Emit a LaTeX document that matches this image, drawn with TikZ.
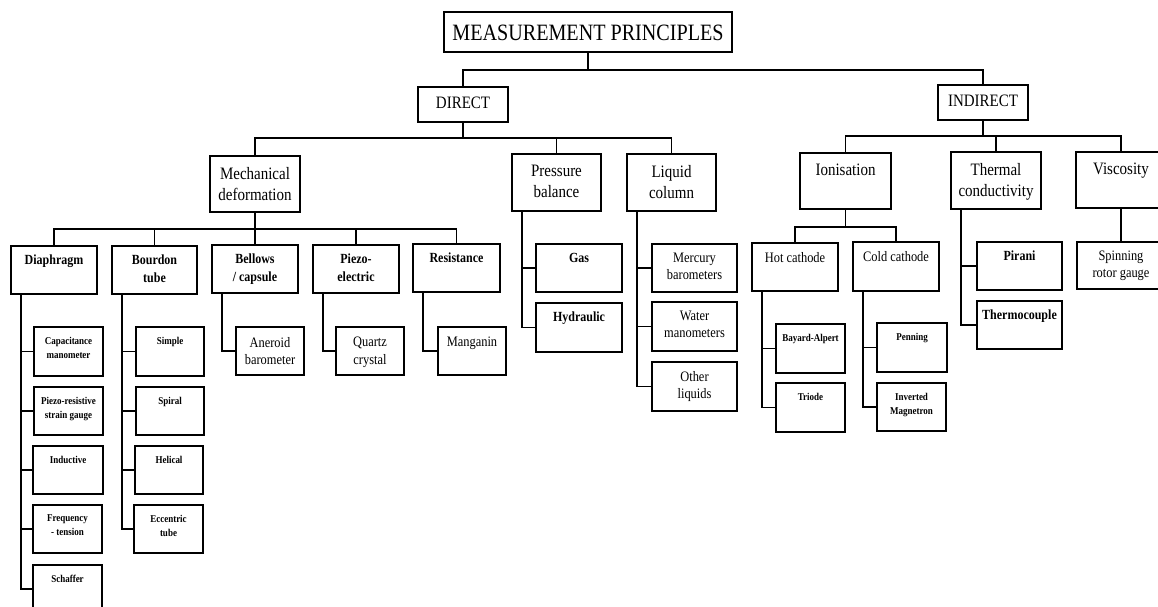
\documentclass[tikz,border=0pt]{standalone}
\usepackage{fontspec}
\setmainfont{Liberation Serif}[FakeStretch=0.86]
\usetikzlibrary{calc}
\newcommand\fA{\fontsize{23.5}{28}\selectfont}
\newcommand\fB{\fontsize{17.5}{21}\selectfont}
\newcommand\fC{\fontsize{14.5}{17.5}\selectfont}
\newcommand\fCb{\fontsize{14}{17.5}\selectfont\bfseries}
\newcommand\fD{\fontsize{10.5}{14}\selectfont\bfseries}
\tikzset{
 boxst/.style={draw,line width=1.5bp,inner sep=0pt,outer sep=0pt},
 lab/.style={anchor=north,align=center,inner sep=0pt,outer sep=0pt},
 lA/.style={lab,font=\fA,yshift=-13bp},
 lB/.style={lab,font=\fB,yshift=-11bp},
 lD/.style={lab,font=\fB,yshift=-10bp},
 lC/.style={lab,font=\fC,yshift=-9bp},
 lCb/.style={lab,font=\fCb,yshift=-9bp},
 lE/.style={lab,font=\fC,yshift=-10bp},
 lL/.style={lab,font=\fD,yshift=-10bp},
 wire/.style={line width=1.5bp}
}
\newcommand\bx[7]{\node[boxst,minimum width={(#4-#2)*1bp},minimum height={(#5-#3)*1bp},label={[#6]north:{#7}}] (#1) at ({(#2+#4)/2},{(#3+#5)/2}) {};}
\begin{document}
\begin{tikzpicture}[x=1bp,y=-1bp]
\useasboundingbox (0,0) rectangle (1158,607);
\fill[white] (0,0) rectangle (1158,607);
\clip (0,0) rectangle (1158,607);
\bx{mp}{444}{12}{732}{52}{lA}{MEASUREMENT PRINCIPLES}
\bx{direct}{418}{87}{508}{122}{lD}{DIRECT}
\bx{indirect}{938}{85}{1028}{120}{lD}{INDIRECT}
\bx{mech}{210}{156}{300}{212}{lB}{Mechanical\\deformation}
\bx{press}{512}{154}{601}{211}{lB}{Pressure\\balance}
\bx{liquid}{627}{154}{716}{211}{lB}{Liquid\\column}
\bx{ion}{800}{153}{891}{209}{lB}{Ionisation}
\bx{therm}{951}{152}{1041}{209}{lB}{Thermal\\conductivity}
\bx{visc}{1076}{152}{1166}{208}{lB}{Viscosity}
\bx{diaph}{11}{246}{97}{294}{lCb}{Diaphragm}
\bx{bourdon}{112}{246}{197}{294}{lCb}{Bourdon\\tube}
\bx{bellows}{212}{245}{298}{293}{lCb}{Bellows\\/ capsule}
\bx{piezo}{313}{245}{399}{293}{lCb}{Piezo-\\electric}
\bx{resist}{413}{244}{500}{292}{lCb}{Resistance}
\bx{capm}{34}{327}{103}{376}{lL}{Capacitance\\manometer}
\bx{prsg}{34}{387}{103}{435}{lL}{Piezo-resistive\\strain gauge}
\bx{induct}{33}{446}{103}{494}{lL}{Inductive}
\bx{freq}{33}{505}{102}{553}{lL}{Frequency\\- tension}
\bx{schaffer}{33}{565}{102}{613}{lL}{Schaffer}
\bx{simple}{136}{327}{204}{376}{lL}{Simple}
\bx{spiral}{136}{387}{204}{435}{lL}{Spiral}
\bx{helical}{135}{446}{203}{494}{lL}{Helical}
\bx{ecc}{134}{505}{203}{553}{lL}{Eccentric\\tube}
\bx{aneroid}{236}{327}{304}{375}{lE}{Aneroid\\barometer}
\bx{quartz}{336}{327}{404}{375}{lE}{Quartz\\crystal}
\bx{mang}{438}{327}{506}{375}{lE}{Manganin}
\bx{gas}{536}{244}{622}{292}{lCb}{Gas}
\bx{hydr}{536}{303}{622}{352}{lCb}{Hydraulic}
\bx{merc}{652}{244}{737}{292}{lC}{Mercury\\barometers}
\bx{water}{652}{302}{737}{351}{lC}{Water\\manometers}
\bx{other}{652}{362}{737}{411}{lC}{Other\\liquids}
\bx{hot}{752}{243}{838}{291}{lC}{Hot cathode}
\bx{cold}{853}{242}{939}{291}{lC}{Cold cathode}
\bx{bayard}{776}{324}{845}{373}{lL}{Bayard-Alpert}
\bx{triode}{776}{383}{845}{432}{lL}{Triode}
\bx{penning}{877}{323}{947}{372}{lL}{Penning}
\bx{invm}{877}{383}{946}{431}{lL}{Inverted\\Magnetron}
\bx{pirani}{977}{242}{1062}{290}{lCb}{Pirani}
\bx{thermo}{977}{301}{1062}{349}{lCb}{Thermocouple}
\bx{spin}{1077}{242}{1165}{289}{lC}{Spinning\\rotor gauge}
% tree connectors
\draw[wire] (mp.south) -- ++(0,18) coordinate (tj);
\draw[wire] (direct.north) |- (tj) -| (indirect.north);
\draw[wire] (direct.south) -- ++(0,16) coordinate (dj);
\draw[wire] (mech.north) |- (dj) -| (liquid.north);
\draw[wire] (press.north) -- (press.north |- dj);
\draw[wire] (mech.south) -- ++(0,17) coordinate (mj);
\draw[wire] (diaph.north) |- (mj) -| (resist.north);
\draw[wire] (bourdon.north) -- (bourdon.north |- mj);
\draw[wire] (bellows.north) -- (bellows.north |- mj);
\draw[wire] (piezo.north) -- (piezo.north |- mj);
\draw[wire] (indirect.south) -- ++(0,16) coordinate (ij);
\draw[wire] (ion.north) |- (ij) -| (visc.north);
\draw[wire] (therm.north) -- (therm.north |- ij);
\draw[wire] (ion.south) -- ++(0,18) coordinate (oj);
\draw[wire] (hot.north) |- (oj) -| (cold.north);
\draw[wire] (visc.south) -- (spin.north);
% leaf connectors
\foreach \p/\c in {diaph/capm,diaph/prsg,diaph/induct,diaph/freq,diaph/schaffer,
  bourdon/simple,bourdon/spiral,bourdon/helical,bourdon/ecc,
  bellows/aneroid,piezo/quartz,resist/mang,
  press/gas,press/hydr,liquid/merc,liquid/water,liquid/other,
  hot/bayard,hot/triode,cold/penning,cold/invm,therm/pirani,therm/thermo}
  \draw[wire] ([xshift=10bp]\p.south west) |- (\c.west);
\end{tikzpicture}
\end{document}
